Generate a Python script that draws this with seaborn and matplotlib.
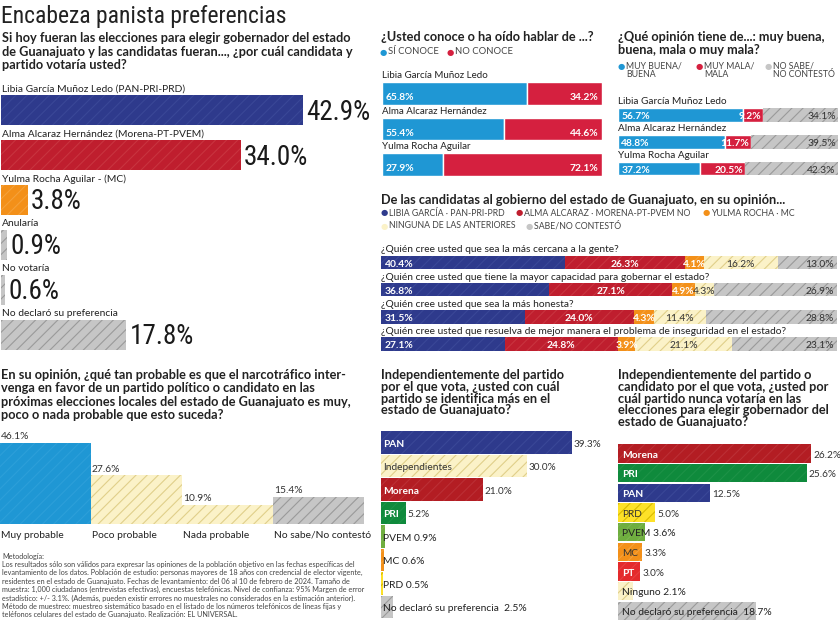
import matplotlib
matplotlib.use("Agg")
import matplotlib.pyplot as plt
import seaborn as sns

sns.set_style("white")
plt.rcParams["font.family"] = ["Lato", "DejaVu Sans"]
plt.rcParams["hatch.linewidth"] = 0.8

# ---------------- datos ----------------
pref_labels = ["Libia García Muñoz Ledo (PAN-PRI-PRD)", "Alma Alcaraz Hernández (Morena-PT-PVEM)",
               "Yulma Rocha Aguilar - (MC)", "Anularía", "No votaría", "No declaró su preferencia"]
pref_vals = [42.9, 34.0, 3.8, 0.9, 0.6, 17.8]

cand_names = ["Libia García Muñoz Ledo", "Alma Alcaraz Hernández", "Yulma Rocha Aguilar"]
conoce_si = [65.8, 55.4, 27.9]
conoce_no = [34.2, 44.6, 72.1]

op_buena = [56.7, 48.8, 37.2]
op_mala = [9.2, 11.7, 20.5]
op_nosabe = [34.1, 39.5, 42.3]

preguntas = ["¿Quién cree usted que sea la más cercana a la gente?",
             "¿Quién cree usted que tiene la mayor capacidad para gobernar el estado?",
             "¿Quién cree usted que sea la más honesta?",
             "¿Quién cree usted que resuelva de mejor manera el problema de inseguridad en el estado?"]
atr_libia = [40.4, 36.8, 31.5, 27.1]
atr_alma = [26.3, 27.1, 24.0, 24.8]
atr_yulma = [4.1, 4.9, 4.3, 3.9]
atr_ninguna = [16.2, 4.3, 11.4, 21.1]
atr_nosabe = [13.0, 26.9, 28.8, 23.1]

narco_cats = ["Muy probable", "Poco probable", "Nada probable", "No sabe/No contestó"]
narco_vals = [46.1, 27.6, 10.9, 15.4]

ident_partidos = ["PAN", "Independientes", "Morena", "PRI", "PVEM", "MC", "PRD", "No declaró su preferencia"]
ident_vals = [39.3, 30.0, 21.0, 5.2, 0.9, 0.6, 0.5, 2.5]

nunca_partidos = ["Morena", "PRI", "PAN", "PRD", "PVEM", "MC", "PT", "Ninguno", "No declaró su preferencia"]
nunca_vals = [26.2, 25.6, 12.5, 5.0, 3.6, 3.3, 3.0, 2.1, 18.7]

# ---------------- estilo ----------------
NAVY = "#2e3a8c"
RED = "#bf1e2e"
ORANGE = "#f39019"
GREY = "#c6c6c6"
CREAM = "#fbf2c8"
BLUE = "#1f97d4"
CRIMSON = "#d5203f"
MORENA = "#b31d23"
GREEN = "#0f8a3c"
LGREEN = "#6fae3f"
YELLOW = "#fde128"
PTRED = "#e42a2c"
HATCH = {NAVY: "#3a4797", RED: "#c8343f", ORANGE: "#f5a13a", GREY: "#9a9a9a", CREAM: "#e0cf8a",
         BLUE: "#2c9fd9", CRIMSON: "#da3150", MORENA: "#bb2f35", GREEN: "#1d9247", LGREEN: "#7cb651",
         YELLOW: "#d9bb00", PTRED: "#e83e40"}
PARTY = {"PAN": NAVY, "Independientes": CREAM, "Morena": MORENA, "PRI": GREEN, "PVEM": LGREEN,
         "MC": ORANGE, "PRD": YELLOW, "PT": PTRED, "Ninguno": CREAM, "No declaró su preferencia": GREY}
WHITE_TXT = {"PAN", "Morena", "PRI", "PT"}
TXT = "#222222"
NARROW = ["Roboto Condensed", "DejaVu Sans Condensed", "Liberation Sans Narrow", "DejaVu Sans"]
BOLD = 9.2

W, H = 840, 620
fig = plt.figure(figsize=(8.4, 6.2), dpi=100)


def px_ax(x0, y0, x1, y1):
    ax = fig.add_axes([x0 / W, 1 - y1 / H, (x1 - x0) / W, (y1 - y0) / H])
    return ax


def ftext(x, y, s, **kw):
    kw.setdefault("va", "center")
    kw.setdefault("color", TXT)
    fig.text(x / W, 1 - y / H, s, **kw)


def lines(x, y0, dy, rows, **kw):
    for i, r in enumerate(rows):
        ftext(x, y0 + i * dy, r, **kw)


def paint(p, c):
    p.set_facecolor(c)
    p.set_edgecolor(HATCH[c])
    p.set_linewidth(0)
    p.set_hatch("///")


def dot(x, y, c):
    ftext(x, y, "●", color=c, fontsize=6, family="DejaVu Sans", ha="center")


# ---------- 1. preferencias ----------
ftext(1, 17, "Encabeza panista preferencias", fontsize=17, family=NARROW, fontstretch="condensed")
lines(2, 38, 13.5, ["Si hoy fueran las elecciones para elegir gobernador del estado",
                    "de Guanajuato y las candidatas fueran..., ¿por cuál candidata y",
                    "partido votaría usted?"], fontsize=BOLD, fontweight="bold")

ax = px_ax(1, 88, 371, 357)
sns.barplot(x=pref_vals, y=pref_labels, orient="h", width=0.67, color=GREY, ax=ax)
for p, c in zip(ax.patches, [NAVY, RED, ORANGE, GREY, GREY, GREY]):
    paint(p, c)
ax.set_xlim(0, 370 / 7.05)
ax.set_ylim(5.5, -0.5)
ax.set_axis_off()
for i, (lab, v) in enumerate(zip(pref_labels, pref_vals)):
    ax.text(0.1, i - 0.47, lab, va="center", fontsize=7.4, color=TXT)
    ax.text(v + 0.45, i + 0.04, f"{v:.1f}%", va="center", fontsize=19.5, family=NARROW,
            fontstretch="condensed", color="#1a1a1a")

# ---------- 2. conoce ----------
ftext(381, 37, "¿Usted conoce o ha oído hablar de ...?", fontsize=BOLD, fontweight="bold")
dot(383, 52, BLUE)
ftext(388, 52, "SÍ CONOCE", fontsize=6.8, color="#444444")
dot(450, 52, CRIMSON)
ftext(455, 52, "NO CONOCE", fontsize=6.8, color="#444444")

ax = px_ax(382, 75.75, 602, 182.25)
yy = list(range(3))
ax.barh(yy, conoce_si, height=0.62, color=BLUE)
ax.barh(yy, conoce_no, left=conoce_si, height=0.62, color=CRIMSON)
ax.set_xlim(0, 100)
ax.set_ylim(2.5, -0.5)
ax.set_axis_off()
for i in yy:
    ax.text(0, i - 0.5, cand_names[i], va="center", fontsize=7.0, color=TXT)
    ax.text(1.5, i + 0.12, f"{conoce_si[i]:.1f}%", va="center", fontsize=7.4, color="white", fontweight="bold")
    ax.text(98.5, i + 0.12, f"{conoce_no[i]:.1f}%", va="center", ha="right", fontsize=7.4, color="white",
            fontweight="bold")

# ---------- 3. opinion ----------
lines(618, 37, 13.5, ["¿Qué opinión tiene de...: muy buena,", "buena, mala o muy mala?"],
      fontsize=BOLD, fontweight="bold")
for x, c, s in [(621, BLUE, "MUY BUENA/\nBUENA"), (699, CRIMSON, "MUY MALA/\nMALA"), (768, GREY, "NO SABE/\nNO CONTESTÓ")]:
    dot(x, 66, c)
    ftext(x + 5, 70, s, fontsize=6.3, color="#444444", linespacing=0.95)

ax = px_ax(618, 101.6, 838, 181.9)
ax.barh(yy, op_buena, height=0.52, color=BLUE)
ax.barh(yy, op_mala, left=op_buena, height=0.52, color=CRIMSON)
left3 = [a + b for a, b in zip(op_buena, op_mala)]
bars = ax.barh(yy, op_nosabe, left=left3, height=0.52)
for p in bars:
    paint(p, GREY)
ax.set_xlim(0, 100)
ax.set_ylim(2.5, -0.5)
ax.set_axis_off()
for i in yy:
    ax.text(0, i - 0.5, cand_names[i], va="center", fontsize=7.2, color=TXT)
    ax.text(1.5, i + 0.06, f"{op_buena[i]:.1f}%", va="center", fontsize=7.4, color="white", fontweight="bold")
    ax.text(left3[i] - 0.8, i + 0.06, f"{op_mala[i]:.1f}%", va="center", ha="right", fontsize=7.4,
            color="white", fontweight="bold")
    ax.text(99, i + 0.06, f"{op_nosabe[i]:.1f}%", va="center", ha="right", fontsize=7.4, color="#333333")

# ---------- 4. atributos ----------
ftext(381, 200, "De las candidatas al gobierno del estado de Guanajuato, en su opinión...",
      fontsize=BOLD, fontweight="bold")
for x, y, c, s in [(384, 213, NAVY, "LIBIA GARCÍA · PAN-PRI-PRD"),
                   (519, 213, RED, "ALMA ALCARAZ · MORENA-PT-PVEM NO"),
                   (706, 213, ORANGE, "YULMA ROCHA · MC"),
                   (384, 226, CREAM, "NINGUNA DE LAS ANTERIORES"),
                   (529, 226, GREY, "SABE/NO CONTESTÓ")]:
    dot(x, y, c)
    ftext(x + 5, y, s, fontsize=6.3, color="#444444")

ax = px_ax(381, 248.9, 837, 357.6)
yy4 = list(range(4))
segs = [(atr_libia, NAVY), (atr_alma, RED), (atr_yulma, ORANGE), (atr_ninguna, CREAM), (atr_nosabe, GREY)]
left = [0.0] * 4
for vals, c in segs:
    bars = ax.barh(yy4, vals, left=left, height=0.5)
    for p in bars:
        paint(p, c)
    for i in yy4:
        lab = f"{vals[i]:.1f}%"
        if c == NAVY:
            ax.text(left[i] + 0.8, i + 0.06, lab, va="center", fontsize=7.4, color="white", fontweight="bold")
        elif c == GREY:
            ax.text(99.3, i + 0.06, lab, va="center", ha="right", fontsize=7.4, color="#333333")
        elif c == CREAM:
            ax.text(left[i] + vals[i] / 2, i + 0.06, lab, va="center", ha="center", fontsize=7.4, color="#333333")
        else:
            ax.text(left[i] + vals[i] / 2, i + 0.06, lab, va="center", ha="center", fontsize=7.4,
                    color="white", fontweight="bold")
    left = [l + v for l, v in zip(left, vals)]
ax.set_xlim(0, 100)
ax.set_ylim(3.5, -0.5)
ax.set_axis_off()
for i in yy4:
    ax.text(0, i - 0.46, preguntas[i], va="center", fontsize=7.4, color=TXT)

# ---------- 5. narcotrafico ----------
lines(1, 375, 13.4, ["En su opinión, ¿qué tan probable es que el narcotráfico inter-",
                     "venga en favor de un partido político o candidato en las",
                     "próximas elecciones locales del estado de Guanajuato es muy,",
                     "poco o nada probable que esto suceda?"], fontsize=BOLD, fontweight="bold")
ax = px_ax(0, 430, 364, 524)
sns.barplot(x=narco_cats, y=narco_vals, width=0.99, color=GREY, ax=ax)
for p, c in zip(ax.patches, [BLUE, CREAM, CREAM, GREY]):
    paint(p, c)
ax.set_xlim(-0.5, 3.5)
ax.set_ylim(0, (524 - 430) / 1.76)
ax.set_axis_off()
for i, (cat, v) in enumerate(zip(narco_cats, narco_vals)):
    ax.text(i - 0.49, v + 1.0, f"{v:.1f}%", va="bottom", fontsize=7.4, color="#333333")
    ax.text(i - 0.49, -6.3, cat, va="center", fontsize=7.4, color=TXT)

# metodologia
lines(2, 556, 8.4, ["Metodología:",
                    "Los resultados sólo son válidos para expresar las opiniones de la población objetivo en las fechas específicas del",
                    "levantamiento de los datos. Población de estudio: personas mayores de 18 años con credencial de elector vigente,",
                    "residentes en el estado de Guanajuato. Fechas de levantamiento: del 06 al 10 de febrero de 2024. Tamaño de",
                    "muestra: 1,000 ciudadanos (entrevistas efectivas), encuestas telefónicas. Nivel de confianza: 95% Margen de error",
                    "estadístico: +/- 3.1%. (Además, pueden existir errores no muestrales no considerados en la estimación anterior).",
                    "Método de muestreo: muestreo sistemático basado en el listado de los números telefónicos de líneas fijas y",
                    "teléfonos celulares del estado de Guanajuato. Realización: EL UNIVERSAL."],
      fontsize=5.25, color="#444444")


# ---------- 6 y 7. partidos ----------
def party_bars(ax, names, vals, scale, width):
    sns.barplot(x=vals, y=names, orient="h", width=width, color=GREY, ax=ax)
    for p, n in zip(ax.patches, names):
        paint(p, PARTY[n])
    ax.set_ylim(len(names) - 0.5, -0.5)
    ax.set_axis_off()
    for i, (n, v) in enumerate(zip(names, vals)):
        white = n in WHITE_TXT
        if v * scale < len(n) * 6.8:
            ax.text(0.5, i + 0.08, f"{n}  {v:.1f}%" if len(n) > 10 else f"{n} {v:.1f}%",
                    va="center", fontsize=7.4, color=TXT)
        else:
            ax.text(0.5, i + 0.08, n, va="center", fontsize=7.3, color="white" if white else "#333333",
                    fontweight="bold" if white else "normal")
            ax.text(v + 0.3, i + 0.08, f"{v:.1f}%", va="center", fontsize=7.2, color="#333333")


lines(381, 375, 11.8, ["Independientemente del partido", "por el que vota, ¿usted con cuál",
                       "partido se identifica más en el", "estado de Guanajuato?"], fontsize=BOLD, fontweight="bold")
ax = px_ax(381, 430.75, 605, 618.75)
party_bars(ax, ident_partidos, ident_vals, 4.86, 0.94)
ax.set_xlim(0, 224 / 4.86)

lines(618, 375, 11.8, ["Independientemente del partido o", "candidato por el que vota, ¿usted por",
                       "cuál partido nunca votaría en las", "elecciones para elegir gobernador del",
                       "estado de Guanajuato?"], fontsize=BOLD, fontweight="bold")
ax = px_ax(618, 443.65, 840, 620.85)
party_bars(ax, nunca_partidos, nunca_vals, 7.37, 0.93)
ax.set_xlim(0, 222 / 7.37)

fig.savefig("out.png", dpi=100)
